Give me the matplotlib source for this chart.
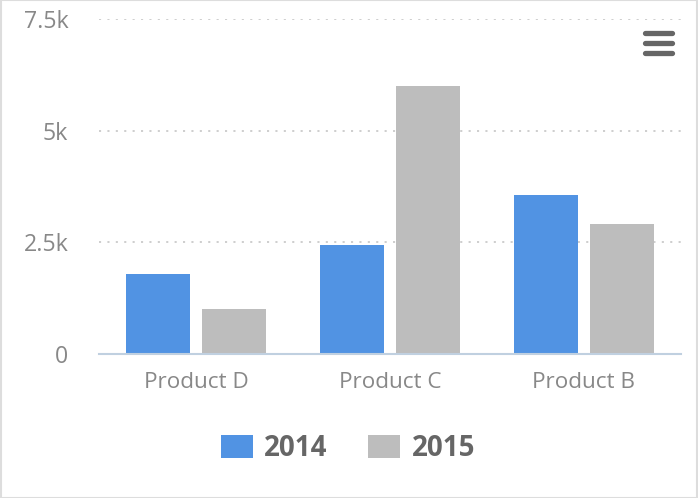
import numpy as np
import matplotlib
matplotlib.use('Agg')
import matplotlib.pyplot as plt
from matplotlib.lines import Line2D
from matplotlib.patches import Rectangle
from matplotlib.ticker import FuncFormatter

# data
categories = ['Product D', 'Product C', 'Product B']
sales_2014 = [1800, 2440, 3570]
sales_2015 = [1000, 6000, 2900]
series_names = ['2014', '2015']
y_ticks = [0, 2500, 5000, 7500]

blue = '#5193e3'
grey = '#bdbdbd'

plt.rcParams['font.family'] = ['Open Sans', 'DejaVu Sans']

fig = plt.figure(figsize=(6.98, 4.98), dpi=100)
ax = fig.add_axes([0.1418, 0.2892, 0.8338, 0.6726])

x = np.arange(len(categories))
w = 0.33
off = 0.196
b1 = ax.bar(x - off, sales_2014, w, color=blue, label=series_names[0])
b2 = ax.bar(x + off, sales_2015, w, color=grey, label=series_names[1])

ax.set_xlim(-0.5, len(categories) - 0.5)
ax.set_ylim(0, 7500)
ax.set_yticks(y_ticks)

def fmt_k(v, pos):
    if v == 0:
        return '0'
    s = '%g' % (v / 1000.0)
    return s + 'k'

ax.yaxis.set_major_formatter(FuncFormatter(fmt_k))
ax.set_xticks(x)
ax.set_xticklabels(categories)

ax.tick_params(axis='y', length=0, pad=22, labelsize=16.7, labelcolor='#888888')
ax.tick_params(axis='x', length=0, pad=13, labelsize=16.2, labelcolor='#888888')

for side in ['top', 'right', 'left']:
    ax.spines[side].set_visible(False)
ax.spines['bottom'].set_color('#c0d0e0')
ax.spines['bottom'].set_linewidth(1.5)

ax.set_axisbelow(True)
ax.yaxis.grid(True, color='#c0c0c0', linewidth=1.08, linestyle=(0, (1.4, 4.2)))

fig.legend(handles=[b1, b2], labels=series_names, loc='center',
           bbox_to_anchor=(0.4986, 0.099), ncol=2, frameon=False,
           prop={'size': 20, 'weight': 'bold'}, labelcolor='#666666',
           handlelength=1.15, handleheight=0.86, handletextpad=0.4,
           columnspacing=1.47)

# menu icon top right
for yy in [32.7, 42.7, 52.7]:
    fig.add_artist(Line2D([644.5 / 698, 671.5 / 698], [1 - yy / 498, 1 - yy / 498],
                          color='#666666', linewidth=3.8, solid_capstyle='round',
                          transform=fig.transFigure))

# outer border
fig.add_artist(Rectangle((0.001, 0.001), 0.998, 0.998, transform=fig.transFigure,
                         fill=False, edgecolor='#dddddd', linewidth=1.5))

fig.savefig('out.png', dpi=100)
